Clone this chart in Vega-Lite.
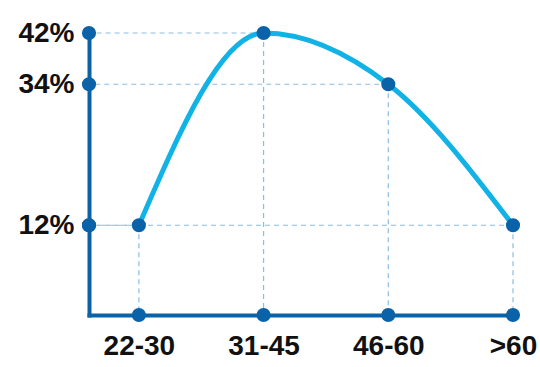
{
  "$schema": "https://vega.github.io/schema/vega-lite/v6.json",
  "width": 424,
  "height": 282,
  "autosize": "none",
  "padding": {"left": 89, "top": 33, "right": 27, "bottom": 52},
  "background": "white",
  "config": {"view": {"stroke": null}},
  "data": {"values": [
    {"age": "22-30", "i": 0, "pct": 12},
    {"age": "31-45", "i": 1, "pct": 42},
    {"age": "46-60", "i": 2, "pct": 34},
    {"age": ">60", "i": 3, "pct": 12}
  ]},
  "encoding": {
    "x": {"field": "i", "type": "quantitative", "scale": {"domain": [-0.4, 3], "nice": false, "zero": false},
      "axis": {"title": null, "values": [0, 1, 2, 3], "labelExpr": "['22-30','31-45','46-60','>60'][datum.value]",
        "grid": false, "ticks": false, "domainColor": "#0a62a8", "domainWidth": 4, "domainCap": "square",
        "labelFont": "Liberation Sans", "labelFontWeight": "bold", "labelFontSize": 28, "labelColor": "#111111",
        "labelPadding": 17, "labelBound": false, "labelOverlap": false, "labelFlush": false}},
    "y": {"field": "pct", "type": "quantitative", "scale": {"domain": [-2, 42], "nice": false, "zero": false},
      "axis": {"title": null, "values": [12, 34, 42], "labelExpr": "datum.value + '%'",
        "grid": false, "ticks": false, "domainColor": "#0a62a8", "domainWidth": 4, "domainCap": "square",
        "labelFont": "Liberation Sans", "labelFontWeight": "bold", "labelFontSize": 28, "labelColor": "#111111",
        "labelPadding": 15, "labelBaseline": "middle", "labelOverlap": false, "labelFlush": false}}
  },
  "layer": [
    {"mark": {"type": "rule", "strokeDash": [5, 4], "color": "#8bbde3", "strokeWidth": 1.2},
      "encoding": {"x2": {"datum": -0.4}}},
    {"mark": {"type": "rule", "strokeDash": [5, 4], "color": "#8bbde3", "strokeWidth": 1.2},
      "encoding": {"y2": {"datum": -2}}},
    {"mark": {"type": "line", "interpolate": "monotone", "color": "#11b2e6", "strokeWidth": 5, "strokeCap": "round"}},
    {"mark": {"type": "point", "filled": true, "opacity": 1, "color": "#0a62a8", "size": 200}},
    {"mark": {"type": "point", "filled": true, "opacity": 1, "color": "#0a62a8", "size": 200},
      "encoding": {"x": {"datum": -0.4}}},
    {"mark": {"type": "point", "filled": true, "opacity": 1, "color": "#0a62a8", "size": 200},
      "encoding": {"y": {"datum": -2}}}
  ]
}
